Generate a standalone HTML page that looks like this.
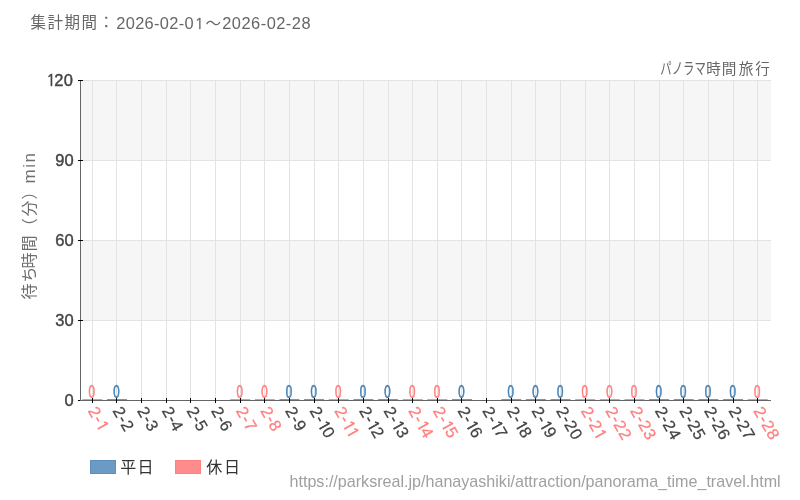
<!DOCTYPE html><html><head><meta charset="utf-8"><style>html,body{margin:0;padding:0;background:#fff;width:800px;height:500px;overflow:hidden}svg{display:block;position:absolute;left:0;top:0}text{font-family:'Liberation Sans','Noto Sans CJK JP',sans-serif}</style></head><body>
<svg width="800" height="500" viewBox="0 0 800 500" shape-rendering="crispEdges">
<rect x="81" y="80" width="690" height="80" fill="#f6f6f6"/>
<rect x="81" y="240" width="690" height="80" fill="#f6f6f6"/>
<rect x="81" y="80" width="690" height="1" fill="#e3e3e3"/>
<rect x="81" y="160" width="690" height="1" fill="#e3e3e3"/>
<rect x="81" y="240" width="690" height="1" fill="#e3e3e3"/>
<rect x="81" y="320" width="690" height="1" fill="#e3e3e3"/>
<rect x="92" y="81" width="1" height="319" fill="#e3e3e3"/>
<rect x="116" y="81" width="1" height="319" fill="#e3e3e3"/>
<rect x="141" y="81" width="1" height="319" fill="#e3e3e3"/>
<rect x="166" y="81" width="1" height="319" fill="#e3e3e3"/>
<rect x="190" y="81" width="1" height="319" fill="#e3e3e3"/>
<rect x="215" y="81" width="1" height="319" fill="#e3e3e3"/>
<rect x="240" y="81" width="1" height="319" fill="#e3e3e3"/>
<rect x="264" y="81" width="1" height="319" fill="#e3e3e3"/>
<rect x="289" y="81" width="1" height="319" fill="#e3e3e3"/>
<rect x="314" y="81" width="1" height="319" fill="#e3e3e3"/>
<rect x="338" y="81" width="1" height="319" fill="#e3e3e3"/>
<rect x="363" y="81" width="1" height="319" fill="#e3e3e3"/>
<rect x="388" y="81" width="1" height="319" fill="#e3e3e3"/>
<rect x="412" y="81" width="1" height="319" fill="#e3e3e3"/>
<rect x="437" y="81" width="1" height="319" fill="#e3e3e3"/>
<rect x="461" y="81" width="1" height="319" fill="#e3e3e3"/>
<rect x="486" y="81" width="1" height="319" fill="#e3e3e3"/>
<rect x="511" y="81" width="1" height="319" fill="#e3e3e3"/>
<rect x="535" y="81" width="1" height="319" fill="#e3e3e3"/>
<rect x="560" y="81" width="1" height="319" fill="#e3e3e3"/>
<rect x="585" y="81" width="1" height="319" fill="#e3e3e3"/>
<rect x="609" y="81" width="1" height="319" fill="#e3e3e3"/>
<rect x="634" y="81" width="1" height="319" fill="#e3e3e3"/>
<rect x="659" y="81" width="1" height="319" fill="#e3e3e3"/>
<rect x="683" y="81" width="1" height="319" fill="#e3e3e3"/>
<rect x="708" y="81" width="1" height="319" fill="#e3e3e3"/>
<rect x="733" y="81" width="1" height="319" fill="#e3e3e3"/>
<rect x="757" y="81" width="1" height="319" fill="#e3e3e3"/>
<rect x="82.32" y="399" width="20" height="1" fill="#ff8c8c" shape-rendering="auto"/>
<rect x="106.96" y="399" width="20" height="1" fill="#6b9bc3" shape-rendering="auto"/>
<rect x="230.18" y="399" width="20" height="1" fill="#ff8c8c" shape-rendering="auto"/>
<rect x="254.82" y="399" width="20" height="1" fill="#ff8c8c" shape-rendering="auto"/>
<rect x="279.46" y="399" width="20" height="1" fill="#6b9bc3" shape-rendering="auto"/>
<rect x="304.11" y="399" width="20" height="1" fill="#6b9bc3" shape-rendering="auto"/>
<rect x="328.75" y="399" width="20" height="1" fill="#ff8c8c" shape-rendering="auto"/>
<rect x="353.39" y="399" width="20" height="1" fill="#6b9bc3" shape-rendering="auto"/>
<rect x="378.04" y="399" width="20" height="1" fill="#6b9bc3" shape-rendering="auto"/>
<rect x="402.68" y="399" width="20" height="1" fill="#ff8c8c" shape-rendering="auto"/>
<rect x="427.32" y="399" width="20" height="1" fill="#ff8c8c" shape-rendering="auto"/>
<rect x="451.96" y="399" width="20" height="1" fill="#6b9bc3" shape-rendering="auto"/>
<rect x="501.25" y="399" width="20" height="1" fill="#6b9bc3" shape-rendering="auto"/>
<rect x="525.89" y="399" width="20" height="1" fill="#6b9bc3" shape-rendering="auto"/>
<rect x="550.54" y="399" width="20" height="1" fill="#6b9bc3" shape-rendering="auto"/>
<rect x="575.18" y="399" width="20" height="1" fill="#ff8c8c" shape-rendering="auto"/>
<rect x="599.82" y="399" width="20" height="1" fill="#ff8c8c" shape-rendering="auto"/>
<rect x="624.46" y="399" width="20" height="1" fill="#ff8c8c" shape-rendering="auto"/>
<rect x="649.11" y="399" width="20" height="1" fill="#6b9bc3" shape-rendering="auto"/>
<rect x="673.75" y="399" width="20" height="1" fill="#6b9bc3" shape-rendering="auto"/>
<rect x="698.39" y="399" width="20" height="1" fill="#6b9bc3" shape-rendering="auto"/>
<rect x="723.04" y="399" width="20" height="1" fill="#6b9bc3" shape-rendering="auto"/>
<rect x="747.68" y="399" width="20" height="1" fill="#ff8c8c" shape-rendering="auto"/>
<rect x="80" y="80" width="1" height="321" fill="#666"/>
<rect x="78" y="80" width="5" height="1" fill="#000"/>
<rect x="78" y="160" width="5" height="1" fill="#000"/>
<rect x="78" y="240" width="5" height="1" fill="#000"/>
<rect x="78" y="320" width="5" height="1" fill="#000"/>
<rect x="78" y="400" width="2" height="1" fill="#000"/>
<rect x="80" y="400" width="691" height="1" fill="#666"/>
<rect x="92" y="398" width="1" height="5" fill="#000"/>
<rect x="116" y="398" width="1" height="5" fill="#000"/>
<rect x="141" y="398" width="1" height="5" fill="#000"/>
<rect x="166" y="398" width="1" height="5" fill="#000"/>
<rect x="190" y="398" width="1" height="5" fill="#000"/>
<rect x="215" y="398" width="1" height="5" fill="#000"/>
<rect x="240" y="398" width="1" height="5" fill="#000"/>
<rect x="264" y="398" width="1" height="5" fill="#000"/>
<rect x="289" y="398" width="1" height="5" fill="#000"/>
<rect x="314" y="398" width="1" height="5" fill="#000"/>
<rect x="338" y="398" width="1" height="5" fill="#000"/>
<rect x="363" y="398" width="1" height="5" fill="#000"/>
<rect x="388" y="398" width="1" height="5" fill="#000"/>
<rect x="412" y="398" width="1" height="5" fill="#000"/>
<rect x="437" y="398" width="1" height="5" fill="#000"/>
<rect x="461" y="398" width="1" height="5" fill="#000"/>
<rect x="486" y="398" width="1" height="5" fill="#000"/>
<rect x="511" y="398" width="1" height="5" fill="#000"/>
<rect x="535" y="398" width="1" height="5" fill="#000"/>
<rect x="560" y="398" width="1" height="5" fill="#000"/>
<rect x="585" y="398" width="1" height="5" fill="#000"/>
<rect x="609" y="398" width="1" height="5" fill="#000"/>
<rect x="634" y="398" width="1" height="5" fill="#000"/>
<rect x="659" y="398" width="1" height="5" fill="#000"/>
<rect x="683" y="398" width="1" height="5" fill="#000"/>
<rect x="708" y="398" width="1" height="5" fill="#000"/>
<rect x="733" y="398" width="1" height="5" fill="#000"/>
<rect x="757" y="398" width="1" height="5" fill="#000"/>
<rect x="90.5" y="460.5" width="25" height="13" fill="#6b9bc3" stroke="#5b8fbd" stroke-width="1"/>
<rect x="175.5" y="460.5" width="25" height="13" fill="#ff8c8c" stroke="#ff7f7f" stroke-width="1"/>
</svg>
<svg width="800" height="500" viewBox="0 0 800 500" style="will-change:transform"><g transform="scale(1.0001)">
<text x="0.00" y="86.00" font-size="16.5" font-weight="normal" fill="#444" stroke="#444" stroke-width="0.4"><tspan x="46.30" font-size="15.6" font-family="NanumGothic,'Liberation Sans',sans-serif" stroke="#444" stroke-width="0.55">1</tspan><tspan x="54.20 63.70">20</tspan></text>
<text x="55.30" y="166.00" font-size="16.5" font-weight="normal" fill="#444" stroke="#444" stroke-width="0.4">90</text>
<text x="55.30" y="246.00" font-size="16.5" font-weight="normal" fill="#444" stroke="#444" stroke-width="0.4">60</text>
<text x="55.30" y="326.00" font-size="16.5" font-weight="normal" fill="#444" stroke="#444" stroke-width="0.4">30</text>
<text x="64.50" y="406.00" font-size="16.5" font-weight="normal" fill="#444" stroke="#444" stroke-width="0.4">0</text>
<text x="0.00" y="0.00" transform="translate(91.82,398.00)  scale(0.64,1)" font-size="18" fill="#ff7f7f" stroke="#ff7f7f" stroke-width="0.7" text-anchor="middle">0</text>
<text x="0.00" y="0.00" transform="translate(116.46,398.00)  scale(0.64,1)" font-size="18" fill="#4682b4" stroke="#4682b4" stroke-width="0.7" text-anchor="middle">0</text>
<text x="0.00" y="0.00" transform="translate(239.68,398.00)  scale(0.64,1)" font-size="18" fill="#ff7f7f" stroke="#ff7f7f" stroke-width="0.7" text-anchor="middle">0</text>
<text x="0.00" y="0.00" transform="translate(264.32,398.00)  scale(0.64,1)" font-size="18" fill="#ff7f7f" stroke="#ff7f7f" stroke-width="0.7" text-anchor="middle">0</text>
<text x="0.00" y="0.00" transform="translate(288.96,398.00)  scale(0.64,1)" font-size="18" fill="#4682b4" stroke="#4682b4" stroke-width="0.7" text-anchor="middle">0</text>
<text x="0.00" y="0.00" transform="translate(313.61,398.00)  scale(0.64,1)" font-size="18" fill="#4682b4" stroke="#4682b4" stroke-width="0.7" text-anchor="middle">0</text>
<text x="0.00" y="0.00" transform="translate(338.25,398.00)  scale(0.64,1)" font-size="18" fill="#ff7f7f" stroke="#ff7f7f" stroke-width="0.7" text-anchor="middle">0</text>
<text x="0.00" y="0.00" transform="translate(362.89,398.00)  scale(0.64,1)" font-size="18" fill="#4682b4" stroke="#4682b4" stroke-width="0.7" text-anchor="middle">0</text>
<text x="0.00" y="0.00" transform="translate(387.54,398.00)  scale(0.64,1)" font-size="18" fill="#4682b4" stroke="#4682b4" stroke-width="0.7" text-anchor="middle">0</text>
<text x="0.00" y="0.00" transform="translate(412.18,398.00)  scale(0.64,1)" font-size="18" fill="#ff7f7f" stroke="#ff7f7f" stroke-width="0.7" text-anchor="middle">0</text>
<text x="0.00" y="0.00" transform="translate(436.82,398.00)  scale(0.64,1)" font-size="18" fill="#ff7f7f" stroke="#ff7f7f" stroke-width="0.7" text-anchor="middle">0</text>
<text x="0.00" y="0.00" transform="translate(461.46,398.00)  scale(0.64,1)" font-size="18" fill="#4682b4" stroke="#4682b4" stroke-width="0.7" text-anchor="middle">0</text>
<text x="0.00" y="0.00" transform="translate(510.75,398.00)  scale(0.64,1)" font-size="18" fill="#4682b4" stroke="#4682b4" stroke-width="0.7" text-anchor="middle">0</text>
<text x="0.00" y="0.00" transform="translate(535.39,398.00)  scale(0.64,1)" font-size="18" fill="#4682b4" stroke="#4682b4" stroke-width="0.7" text-anchor="middle">0</text>
<text x="0.00" y="0.00" transform="translate(560.04,398.00)  scale(0.64,1)" font-size="18" fill="#4682b4" stroke="#4682b4" stroke-width="0.7" text-anchor="middle">0</text>
<text x="0.00" y="0.00" transform="translate(584.68,398.00)  scale(0.64,1)" font-size="18" fill="#ff7f7f" stroke="#ff7f7f" stroke-width="0.7" text-anchor="middle">0</text>
<text x="0.00" y="0.00" transform="translate(609.32,398.00)  scale(0.64,1)" font-size="18" fill="#ff7f7f" stroke="#ff7f7f" stroke-width="0.7" text-anchor="middle">0</text>
<text x="0.00" y="0.00" transform="translate(633.96,398.00)  scale(0.64,1)" font-size="18" fill="#ff7f7f" stroke="#ff7f7f" stroke-width="0.7" text-anchor="middle">0</text>
<text x="0.00" y="0.00" transform="translate(658.61,398.00)  scale(0.64,1)" font-size="18" fill="#4682b4" stroke="#4682b4" stroke-width="0.7" text-anchor="middle">0</text>
<text x="0.00" y="0.00" transform="translate(683.25,398.00)  scale(0.64,1)" font-size="18" fill="#4682b4" stroke="#4682b4" stroke-width="0.7" text-anchor="middle">0</text>
<text x="0.00" y="0.00" transform="translate(707.89,398.00)  scale(0.64,1)" font-size="18" fill="#4682b4" stroke="#4682b4" stroke-width="0.7" text-anchor="middle">0</text>
<text x="0.00" y="0.00" transform="translate(732.54,398.00)  scale(0.64,1)" font-size="18" fill="#4682b4" stroke="#4682b4" stroke-width="0.7" text-anchor="middle">0</text>
<text x="0.00" y="0.00" transform="translate(757.18,398.00)  scale(0.64,1)" font-size="18" fill="#ff7f7f" stroke="#ff7f7f" stroke-width="0.7" text-anchor="middle">0</text>
<text x="0.00" y="5.50" transform="translate(92.32,407.90) rotate(60) scale(1,1)" font-size="16.5" letter-spacing="0.6" fill="#ff7f7f" stroke="#ff7f7f" stroke-width="0.25" dx="0 0 0">2-<tspan font-family="NanumGothic,'Liberation Sans',sans-serif" font-size="15.2" stroke-width="0.6">1</tspan></text>
<text x="0.00" y="5.50" transform="translate(116.96,407.90) rotate(60) scale(1,1)" font-size="16.5" letter-spacing="0.6" fill="#444" stroke="#444" stroke-width="0.25">2-2</text>
<text x="0.00" y="5.50" transform="translate(141.61,407.90) rotate(60) scale(1,1)" font-size="16.5" letter-spacing="0.6" fill="#444" stroke="#444" stroke-width="0.25">2-3</text>
<text x="0.00" y="5.50" transform="translate(166.25,407.90) rotate(60) scale(1,1)" font-size="16.5" letter-spacing="0.6" fill="#444" stroke="#444" stroke-width="0.25">2-4</text>
<text x="0.00" y="5.50" transform="translate(190.89,407.90) rotate(60) scale(1,1)" font-size="16.5" letter-spacing="0.6" fill="#444" stroke="#444" stroke-width="0.25">2-5</text>
<text x="0.00" y="5.50" transform="translate(215.54,407.90) rotate(60) scale(1,1)" font-size="16.5" letter-spacing="0.6" fill="#444" stroke="#444" stroke-width="0.25">2-6</text>
<text x="0.00" y="5.50" transform="translate(240.18,407.90) rotate(60) scale(1,1)" font-size="16.5" letter-spacing="0.6" fill="#ff7f7f" stroke="#ff7f7f" stroke-width="0.25">2-7</text>
<text x="0.00" y="5.50" transform="translate(264.82,407.90) rotate(60) scale(1,1)" font-size="16.5" letter-spacing="0.6" fill="#ff7f7f" stroke="#ff7f7f" stroke-width="0.25">2-8</text>
<text x="0.00" y="5.50" transform="translate(289.46,407.90) rotate(60) scale(1,1)" font-size="16.5" letter-spacing="0.6" fill="#444" stroke="#444" stroke-width="0.25">2-9</text>
<text x="0.00" y="5.50" transform="translate(314.11,407.90) rotate(60) scale(1,1)" font-size="16.5" letter-spacing="0.6" fill="#444" stroke="#444" stroke-width="0.25" dx="0 0 0 -2.0">2-<tspan font-family="NanumGothic,'Liberation Sans',sans-serif" font-size="15.2" stroke-width="0.6">1</tspan>0</text>
<text x="0.00" y="5.50" transform="translate(338.75,407.90) rotate(60) scale(1,1)" font-size="16.5" letter-spacing="0.6" fill="#ff7f7f" stroke="#ff7f7f" stroke-width="0.25" dx="0 0 0 -2.0">2-<tspan font-family="NanumGothic,'Liberation Sans',sans-serif" font-size="15.2" stroke-width="0.6">1</tspan><tspan font-family="NanumGothic,'Liberation Sans',sans-serif" font-size="15.2" stroke-width="0.6">1</tspan></text>
<text x="0.00" y="5.50" transform="translate(363.39,407.90) rotate(60) scale(1,1)" font-size="16.5" letter-spacing="0.6" fill="#444" stroke="#444" stroke-width="0.25" dx="0 0 0 -2.0">2-<tspan font-family="NanumGothic,'Liberation Sans',sans-serif" font-size="15.2" stroke-width="0.6">1</tspan>2</text>
<text x="0.00" y="5.50" transform="translate(388.04,407.90) rotate(60) scale(1,1)" font-size="16.5" letter-spacing="0.6" fill="#444" stroke="#444" stroke-width="0.25" dx="0 0 0 -2.0">2-<tspan font-family="NanumGothic,'Liberation Sans',sans-serif" font-size="15.2" stroke-width="0.6">1</tspan>3</text>
<text x="0.00" y="5.50" transform="translate(412.68,407.90) rotate(60) scale(1,1)" font-size="16.5" letter-spacing="0.6" fill="#ff7f7f" stroke="#ff7f7f" stroke-width="0.25" dx="0 0 0 -2.0">2-<tspan font-family="NanumGothic,'Liberation Sans',sans-serif" font-size="15.2" stroke-width="0.6">1</tspan>4</text>
<text x="0.00" y="5.50" transform="translate(437.32,407.90) rotate(60) scale(1,1)" font-size="16.5" letter-spacing="0.6" fill="#ff7f7f" stroke="#ff7f7f" stroke-width="0.25" dx="0 0 0 -2.0">2-<tspan font-family="NanumGothic,'Liberation Sans',sans-serif" font-size="15.2" stroke-width="0.6">1</tspan>5</text>
<text x="0.00" y="5.50" transform="translate(461.96,407.90) rotate(60) scale(1,1)" font-size="16.5" letter-spacing="0.6" fill="#444" stroke="#444" stroke-width="0.25" dx="0 0 0 -2.0">2-<tspan font-family="NanumGothic,'Liberation Sans',sans-serif" font-size="15.2" stroke-width="0.6">1</tspan>6</text>
<text x="0.00" y="5.50" transform="translate(486.61,407.90) rotate(60) scale(1,1)" font-size="16.5" letter-spacing="0.6" fill="#444" stroke="#444" stroke-width="0.25" dx="0 0 0 -2.0">2-<tspan font-family="NanumGothic,'Liberation Sans',sans-serif" font-size="15.2" stroke-width="0.6">1</tspan>7</text>
<text x="0.00" y="5.50" transform="translate(511.25,407.90) rotate(60) scale(1,1)" font-size="16.5" letter-spacing="0.6" fill="#444" stroke="#444" stroke-width="0.25" dx="0 0 0 -2.0">2-<tspan font-family="NanumGothic,'Liberation Sans',sans-serif" font-size="15.2" stroke-width="0.6">1</tspan>8</text>
<text x="0.00" y="5.50" transform="translate(535.89,407.90) rotate(60) scale(1,1)" font-size="16.5" letter-spacing="0.6" fill="#444" stroke="#444" stroke-width="0.25" dx="0 0 0 -2.0">2-<tspan font-family="NanumGothic,'Liberation Sans',sans-serif" font-size="15.2" stroke-width="0.6">1</tspan>9</text>
<text x="0.00" y="5.50" transform="translate(560.54,407.90) rotate(60) scale(1,1)" font-size="16.5" letter-spacing="0.6" fill="#444" stroke="#444" stroke-width="0.25">2-20</text>
<text x="0.00" y="5.50" transform="translate(585.18,407.90) rotate(60) scale(1,1)" font-size="16.5" letter-spacing="0.6" fill="#ff7f7f" stroke="#ff7f7f" stroke-width="0.25" dx="0 0 0 0">2-2<tspan font-family="NanumGothic,'Liberation Sans',sans-serif" font-size="15.2" stroke-width="0.6">1</tspan></text>
<text x="0.00" y="5.50" transform="translate(609.82,407.90) rotate(60) scale(1,1)" font-size="16.5" letter-spacing="0.6" fill="#ff7f7f" stroke="#ff7f7f" stroke-width="0.25">2-22</text>
<text x="0.00" y="5.50" transform="translate(634.46,407.90) rotate(60) scale(1,1)" font-size="16.5" letter-spacing="0.6" fill="#ff7f7f" stroke="#ff7f7f" stroke-width="0.25">2-23</text>
<text x="0.00" y="5.50" transform="translate(659.11,407.90) rotate(60) scale(1,1)" font-size="16.5" letter-spacing="0.6" fill="#444" stroke="#444" stroke-width="0.25">2-24</text>
<text x="0.00" y="5.50" transform="translate(683.75,407.90) rotate(60) scale(1,1)" font-size="16.5" letter-spacing="0.6" fill="#444" stroke="#444" stroke-width="0.25">2-25</text>
<text x="0.00" y="5.50" transform="translate(708.39,407.90) rotate(60) scale(1,1)" font-size="16.5" letter-spacing="0.6" fill="#444" stroke="#444" stroke-width="0.25">2-26</text>
<text x="0.00" y="5.50" transform="translate(733.04,407.90) rotate(60) scale(1,1)" font-size="16.5" letter-spacing="0.6" fill="#444" stroke="#444" stroke-width="0.25">2-27</text>
<text x="0.00" y="5.50" transform="translate(757.68,407.90) rotate(60) scale(1,1)" font-size="16.5" letter-spacing="0.6" fill="#ff7f7f" stroke="#ff7f7f" stroke-width="0.25">2-28</text>
<text x="0.00" y="28.50" font-size="15.5" fill="#666"><tspan x="30.40" y="27.8" letter-spacing="1.5">集計期間：</tspan><tspan x="116.20" y="28.6" font-size="16.4" letter-spacing="0.35">2026-02-0</tspan><tspan font-size="15.1" dx="0.7" font-family="NanumGothic,'Liberation Sans',sans-serif" stroke="#666" stroke-width="0.3">1</tspan><tspan x="205.40" y="29.1">～</tspan><tspan x="222.20" y="28.6" font-size="16.4" letter-spacing="0.5">2026-02-28</tspan></text>
<text x="0.00" y="74.20" font-size="14.6" fill="#666"><tspan x="660.20" font-size="16.2" textLength="45.5" lengthAdjust="spacingAndGlyphs">パノラマ</tspan><tspan x="706.20 721.80 738.70 755.20">時間旅行</tspan></text>
<text x="0.00" y="0.00" transform="translate(34.70,300.00) rotate(-90) scale(1,1)" font-size="16" fill="#6e6e6e"><tspan x="0.52 17.44 31.52 48.56 65.76 83.52 100.40">待ち時間（分）</tspan><tspan x="116.60" font-size="17" letter-spacing="1.5">min</tspan></text>
<text x="0.00" y="473.20" font-size="16" fill="#333"><tspan x="120.30 137.40">平日</tspan></text>
<text x="0.00" y="473.20" font-size="16" fill="#333"><tspan x="206.30 224.10">休日</tspan></text>
<text x="289.50" y="487.00" font-size="16.1" fill="#a0a0a0">https://parksreal.jp/hanayashiki/attraction/panorama_time_travel.html</text>
</g></svg></body></html>
